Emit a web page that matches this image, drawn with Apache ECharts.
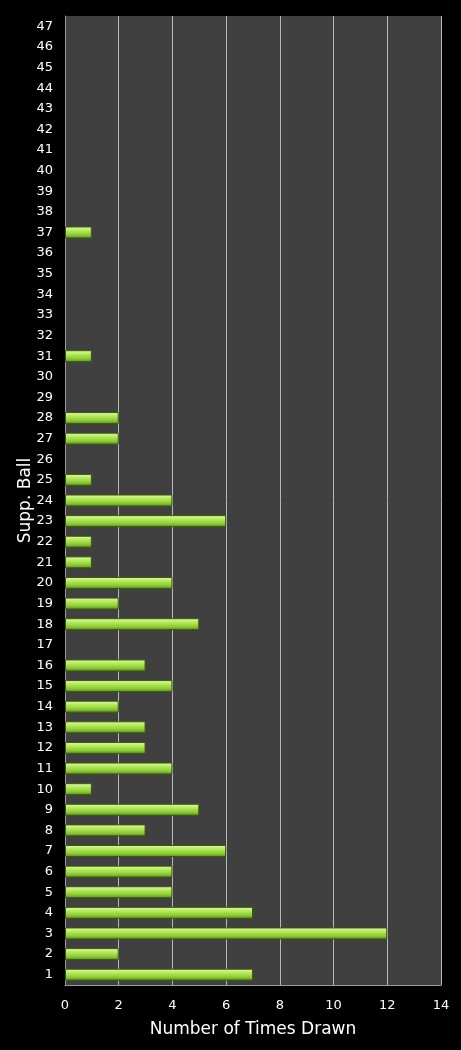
<!DOCTYPE html>
<html>
<head>
<meta charset="utf-8">
<script src="https://cdn.jsdelivr.net/npm/echarts@6/dist/echarts.min.js"></script>
<style>
html,body{margin:0;padding:0;background:#000;}
#main{width:461px;height:1050px;}
</style>
</head>
<body>
<div id="main"></div>
<script>
var balls = [];
for (var i = 1; i <= 47; i++) { balls.push(String(i)); }
// times drawn, ball 1 .. 47
var timesDrawn = [7, 2, 12, 7, 4, 4, 6, 3, 5, 1,
                  4, 3, 3, 2, 4, 3, 0, 5, 2, 4,
                  1, 1, 6, 4, 1, 0, 2, 2, 0, 0,
                  1, 0, 0, 0, 0, 0, 1, 0, 0, 0,
                  0, 0, 0, 0, 0, 0, 0];
var xTicks = [0, 2, 4, 6, 8, 10, 12, 14];

var myChart = echarts.init(document.getElementById('main'));
myChart.setOption({
    backgroundColor: '#000',
    animation: false,
    grid: {
        left: 65, right: 20, top: 16, bottom: 65,
        show: true, backgroundColor: '#404040', borderWidth: 0
    },
    xAxis: {
        type: 'value',
        min: xTicks[0], max: xTicks[xTicks.length - 1], interval: 2,
        name: 'Number of Times Drawn',
        nameLocation: 'middle', nameGap: 36,
        nameTextStyle: { color: '#fff', fontSize: 17, fontFamily: 'DejaVu Sans' },
        axisLine: { show: true, lineStyle: { color: '#9a9a9a', width: 1 } },
        axisTick: { show: false },
        axisLabel: { color: '#fff', fontSize: 13, fontFamily: 'DejaVu Sans', margin: 14 },
        splitLine: { show: true, lineStyle: { color: '#b8b8b8', width: 1 } }
    },
    yAxis: {
        type: 'category',
        data: balls,
        name: 'Supp. Ball',
        nameLocation: 'middle', nameGap: 31, nameRotate: 90,
        nameMoveOverlap: false,
        nameTextStyle: { color: '#fff', fontSize: 17, fontFamily: 'DejaVu Sans' },
        axisLine: { show: true, lineStyle: { color: '#9a9a9a', width: 1 } },
        axisTick: { show: false },
        axisLabel: { color: '#fff', fontSize: 13, fontFamily: 'DejaVu Sans', margin: 12, interval: 0 },
        splitLine: { show: false }
    },
    series: [{
        type: 'bar',
        // zero counts draw no bar
        data: timesDrawn.map(function (v) { return v === 0 ? '-' : v; }),
        barCategoryGap: '42%',
        itemStyle: {
            borderColor: '#3a5a10',
            borderWidth: 1,
            color: new echarts.graphic.LinearGradient(0, 0, 0, 1, [
                { offset: 0, color: '#e4fba8' },
                { offset: 0.35, color: '#b4ea5a' },
                { offset: 0.7, color: '#8ccc34' },
                { offset: 1, color: '#5c8c1c' }
            ])
        }
    }]
});
</script>
</body>
</html>
